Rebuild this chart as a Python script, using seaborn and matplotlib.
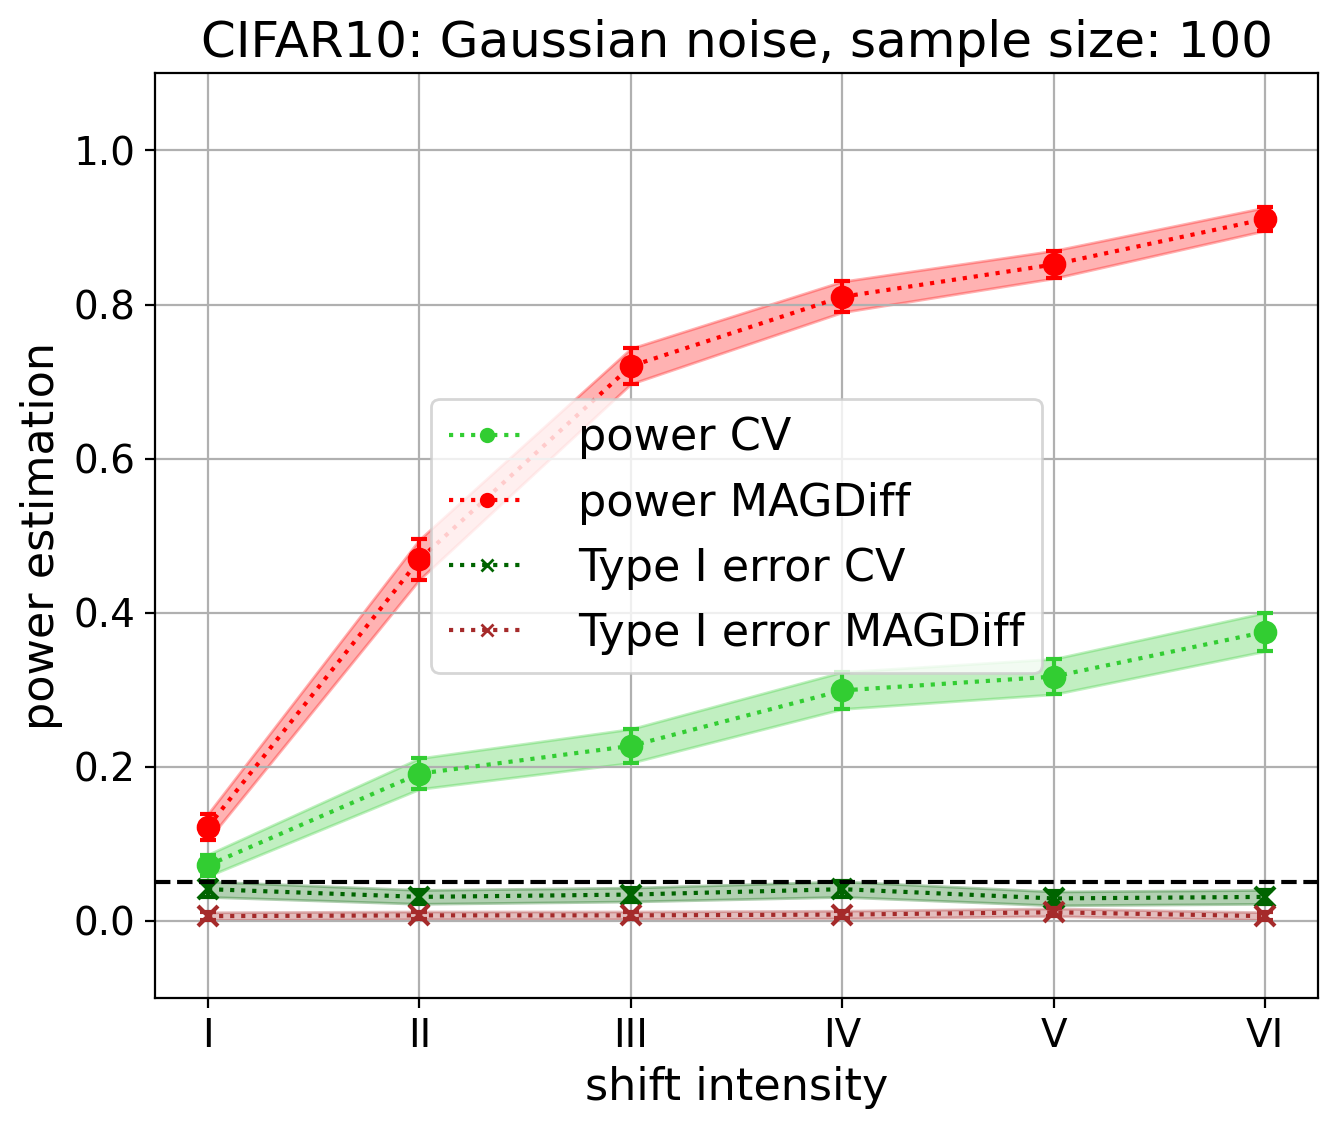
import matplotlib.pyplot as plt
import numpy as np
import pandas as pd
import seaborn as sns
from matplotlib.lines import Line2D


SHIFT_LABELS = ["I", "II", "III", "IV", "V", "VI"]

POWER_CV = [0.072, 0.191, 0.227, 0.299, 0.317, 0.375]
POWER_CV_ERR = [0.014, 0.020, 0.022, 0.024, 0.023, 0.025]

POWER_MAGDIFF = [0.122, 0.469, 0.720, 0.810, 0.852, 0.911]
POWER_MAGDIFF_ERR = [0.017, 0.026, 0.023, 0.020, 0.018, 0.015]

TYPE1_CV = [0.041, 0.031, 0.034, 0.041, 0.029, 0.031]
TYPE1_CV_ERR = [0.010, 0.009, 0.009, 0.010, 0.009, 0.009]

TYPE1_MAGDIFF = [0.006, 0.007, 0.007, 0.008, 0.011, 0.006]
TYPE1_MAGDIFF_ERR = [0.005, 0.005, 0.005, 0.005, 0.005, 0.005]

ALPHA_LEVEL = 0.05


def main() -> None:
    x = np.arange(len(SHIFT_LABELS))
    series = [
        ("power CV", POWER_CV, POWER_CV_ERR, "#32cd32", "o"),
        ("power MAGDiff", POWER_MAGDIFF, POWER_MAGDIFF_ERR, "red", "o"),
        ("Type I error CV", TYPE1_CV, TYPE1_CV_ERR, "darkgreen", "x"),
        ("Type I error MAGDiff", TYPE1_MAGDIFF, TYPE1_MAGDIFF_ERR, "brown", "x"),
    ]

    fig, ax = plt.subplots(figsize=(6.69, 5.65), dpi=200)
    fig.subplots_adjust(left=0.116, right=0.985, bottom=0.117, top=0.935)

    handles = []
    for label, values, errors, color, marker in series:
        values = np.asarray(values)
        errors = np.asarray(errors)
        df = pd.DataFrame({"x": x, "y": values})
        ax.fill_between(x, values - errors, values + errors, color=color, alpha=0.3)
        sns.lineplot(
            data=df, x="x", y="y", ax=ax, color=color, linestyle=":",
            linewidth=1.5, marker=marker, markersize=7,
            markeredgecolor=color, markeredgewidth=1.5, legend=False,
        )
        ax.errorbar(x, values, yerr=errors, fmt="none", ecolor=color,
                    elinewidth=1.5, capsize=3, capthick=1.5)
        handles.append(Line2D([0], [0], color=color, linestyle=":", linewidth=1.5,
                              marker=marker, markersize=4.5, label=label))

    ax.axhline(ALPHA_LEVEL, color="black", linestyle="--", linewidth=1.5)

    ax.set_xticks(x)
    ax.set_xticklabels(SHIFT_LABELS)
    ax.set_ylim(-0.1, 1.1)
    ax.set_yticks([0.0, 0.2, 0.4, 0.6, 0.8, 1.0])
    ax.tick_params(labelsize=14)
    ax.grid(True)

    ax.set_title("CIFAR10: Gaussian noise, sample size: 100", fontsize=18)
    ax.set_xlabel("shift intensity", fontsize=16)
    ax.set_ylabel("power estimation", fontsize=16)
    ax.legend(handles=handles, loc="center", fontsize=16,
              handlelength=1.7, handletextpad=1.2)

    fig.savefig("out.png", dpi=200)
    plt.close(fig)


if __name__ == "__main__":
    main()
